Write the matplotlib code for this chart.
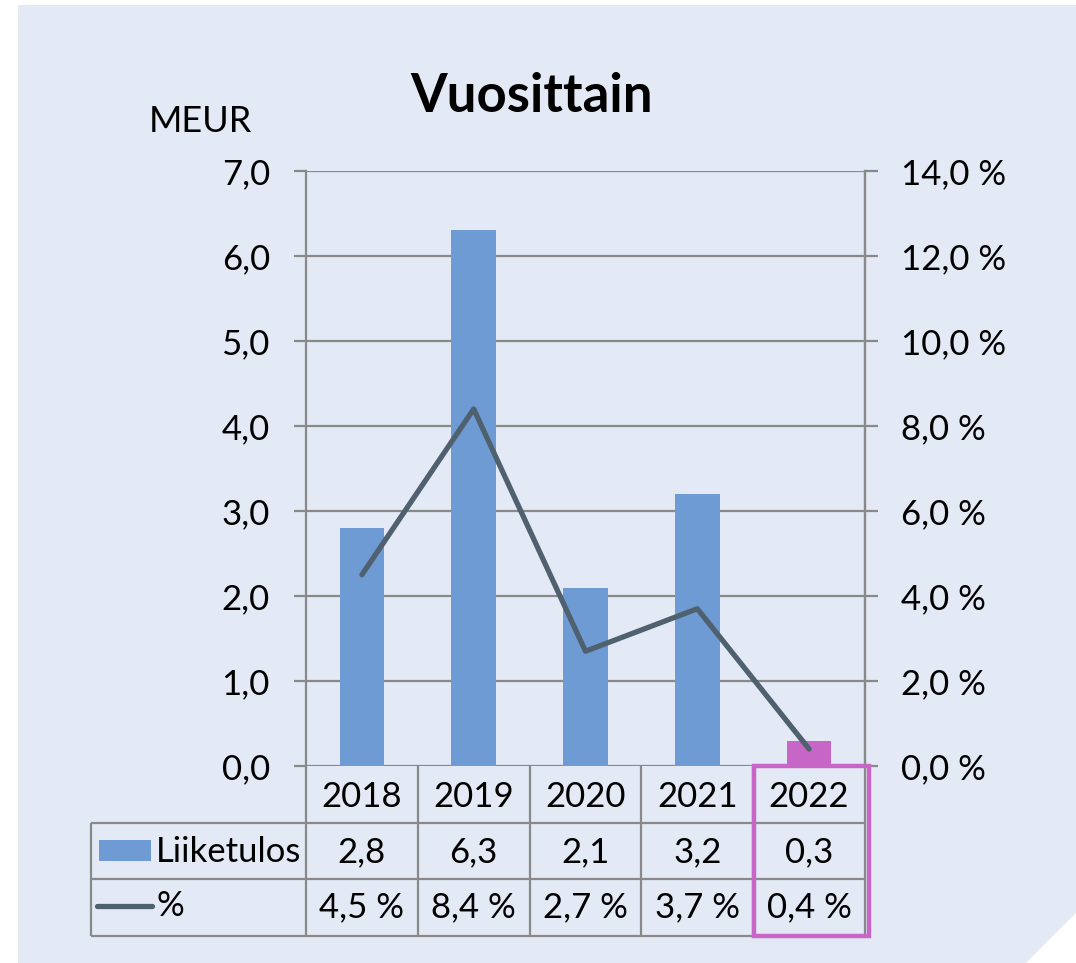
import numpy as np
import matplotlib
matplotlib.use("Agg")
import matplotlib.pyplot as plt
from matplotlib.patches import Polygon, Rectangle
from matplotlib.ticker import FuncFormatter

# --- data ---
years = ["2018", "2019", "2020", "2021", "2022"]
liiketulos = [2.8, 6.3, 2.1, 3.2, 0.3]
percent = [4.5, 8.4, 2.7, 3.7, 0.4]
left_ticks = [0, 1, 2, 3, 4, 5, 6, 7]
right_ticks = [0, 2, 4, 6, 8, 10, 12, 14]

bar_color = "#6F9BD4"
hi_color = "#C866C8"
line_color = "#4F616E"
grid_color = "#898989"
panel_color = "#E3EAF5"
fs = 25

plt.rcParams["font.family"] = ["Lato", "DejaVu Sans"]

W, H = 1076, 963
fig = plt.figure(figsize=(W / 100, H / 100), dpi=100)
fig.patch.set_facecolor("white")


def fx(px):
    return px / W


def fy(py):
    return 1 - py / H


# background panel with the cut corner
panel = Polygon([(fx(18), fy(5)), (fx(1076), fy(5)), (fx(1076), fy(913)),
                 (fx(1026), fy(963)), (fx(18), fy(963))],
                closed=True, transform=fig.transFigure, facecolor=panel_color,
                edgecolor="none", zorder=-5)
fig.patches.append(panel)

# main plot area
x0, x1, ytop, ybot = 306, 865, 171, 766
ax = fig.add_axes([fx(x0), fy(ybot), fx(x1 - x0), (ybot - ytop) / H])
ax.set_facecolor("none")
x = np.arange(len(years))
colors = [bar_color] * (len(years) - 1) + [hi_color]
ax.bar(x, liiketulos, width=0.4, color=colors, zorder=2)
ax.set_xlim(-0.5, len(years) - 0.5)
ax.set_ylim(0, 7)
ax.set_yticks(left_ticks)
ax.yaxis.set_major_formatter(FuncFormatter(lambda v, p: f"{v:.1f}".replace(".", ",")))
ax.set_xticks([])
ax.grid(axis="y", color=grid_color, linewidth=1.6, zorder=1)
for s in ["top", "bottom"]:
    ax.spines[s].set_visible(False)
for s in ["left", "right"]:
    ax.spines[s].set_color(grid_color)
    ax.spines[s].set_linewidth(1.6)
ax.tick_params(axis="y", length=9, width=1.6, color=grid_color, labelsize=fs, pad=17)

ax2 = ax.twinx()
ax2.plot(x, percent, color=line_color, linewidth=3.8, solid_capstyle="round",
         solid_joinstyle="round", zorder=3)
ax2.set_ylim(0, 14)
ax2.set_yticks(right_ticks)
ax2.yaxis.set_major_formatter(FuncFormatter(lambda v, p: f"{v:.1f} %".replace(".", ",")))
for s in ["top", "bottom", "left"]:
    ax2.spines[s].set_visible(False)
ax2.spines["right"].set_color(grid_color)
ax2.spines["right"].set_linewidth(1.6)
ax2.tick_params(axis="y", length=9, width=1.6, color=grid_color, labelsize=fs, pad=17)

fig.text(fx(532), fy(97), "Vuosittain", ha="center", va="center",
         fontsize=38, fontweight="bold")
fig.text(fx(200), fy(122), "MEUR", ha="center", va="center", fontsize=26)

# data table under the chart
tleft, trow1, tbot = 91, 766, 936
cw = (x1 - x0) / len(years)
xl = -0.5 - (x0 - tleft) / cw
tax = fig.add_axes([fx(tleft), fy(tbot), fx(x1 - tleft), (tbot - trow1) / H])
tax.set_xlim(xl, len(years) - 0.5)
tax.set_ylim(3, 0)
tax.axis("off")
lk = dict(color=grid_color, linewidth=1.6, solid_capstyle="butt", clip_on=False)
for r in [1, 2, 3]:
    tax.plot([xl, len(years) - 0.5], [r, r], **lk)
tax.plot([xl, xl], [1, 3], **lk)
for i in range(len(years) + 1):
    tax.plot([i - 0.5, i - 0.5], [0, 3], **lk)

for i, yr in enumerate(years):
    tax.text(i, 0.55, yr, ha="center", va="center", fontsize=fs)
    tax.text(i, 1.52, f"{liiketulos[i]:.1f}".replace(".", ","), ha="center", va="center", fontsize=fs)
    tax.text(i, 2.5, f"{percent[i]:.1f} %".replace(".", ","), ha="center", va="center", fontsize=fs)

# legend keys in the table
key_x = xl + 8 / cw
tax.add_patch(Rectangle((key_x, 1.31), 52 / cw, 0.36, facecolor=bar_color, edgecolor="none"))
tax.text(key_x + 57 / cw, 1.52, "Liiketulos", ha="left", va="center", fontsize=fs)
tax.plot([key_x - 2 / cw, key_x + 53 / cw], [2.47, 2.47], color=line_color,
         linewidth=3.8, solid_capstyle="round")
tax.text(key_x + 57 / cw, 2.47, "%", ha="left", va="center", fontsize=fs)

# highlight box around the last column
last = len(years) - 1
tax.add_patch(Rectangle((last - 0.5 + 0.005, 0.0), 1.03, 3.0, facecolor="none",
                        edgecolor=hi_color, linewidth=3.2, clip_on=False, zorder=4))

fig.savefig("out.png", dpi=100, facecolor=fig.get_facecolor())
